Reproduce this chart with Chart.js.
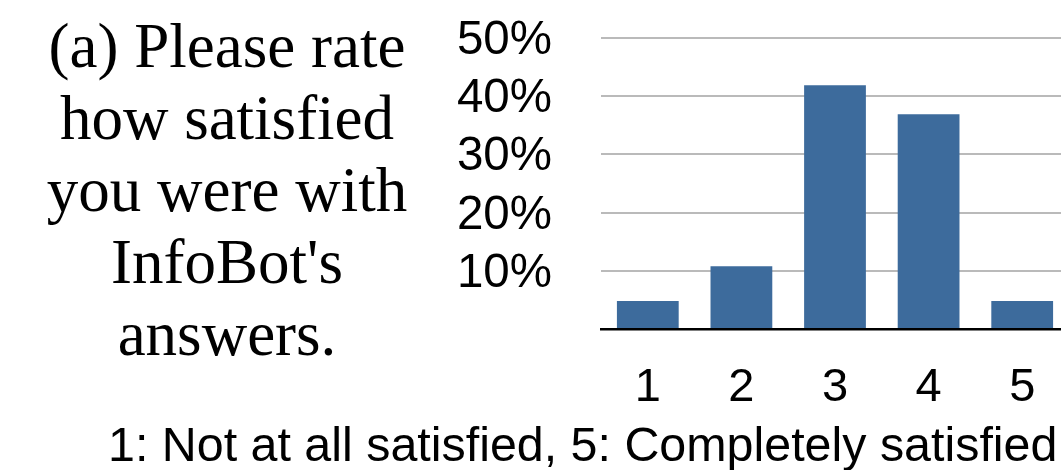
<!DOCTYPE html>
<html>
<head>
<meta charset="utf-8">
<script src="https://cdn.jsdelivr.net/npm/chart.js@4/dist/chart.umd.min.js"></script>
<style>
  html, body { margin: 0; padding: 0; background: #fff; overflow: hidden; }
  body { width: 1061px; height: 470px; position: relative; }
  .question {
    position: absolute; left: 27px; top: 10px; width: 400px;
    font-family: "Liberation Serif", "Times New Roman", serif;
    font-size: 63px; line-height: 72px; text-align: center; color: #000;
  }
  .caption {
    position: absolute; left: 108px; top: 417px; white-space: nowrap;
    font-family: "Liberation Sans", Arial, Helvetica, sans-serif;
    font-size: 48.4px; line-height: 54px; color: #000;
  }
  #chart { position: absolute; left: 440px; top: 0; }
</style>
</head>
<body>
<div class="question">(a) Please rate<br>how satisfied<br>you were with<br>InfoBot's<br>answers.</div>
<canvas id="chart" width="629" height="420"></canvas>
<div class="caption">1: Not at all satisfied, 5: Completely satisfied</div>

<script>
// rating scale and share of answers (%)
const ratings = ["1", "2", "3", "4", "5"];
const shares = [4.8, 10.8, 41.9, 36.9, 4.8];
const yTicks = [0, 10, 20, 30, 40, 50];

const sansFont = "'Liberation Sans', Arial, Helvetica, sans-serif";

let ctx = document.getElementById("chart").getContext("2d");

new Chart(ctx, {
  type: "bar",
  data: {
    labels: ratings,
    datasets: [{
      data: shares,
      backgroundColor: "#3d6b9c",
      borderWidth: 0,
      barPercentage: 0.66,
      categoryPercentage: 1.0,
    }],
  },
  options: {
    responsive: false,
    animation: false,
    layout: { padding: { top: 38, left: 0, right: 0, bottom: 0 } },
    plugins: { legend: { display: false }, tooltip: { enabled: false } },
    scales: {
      x: {
        grid: { display: false },
        border: { display: true, color: "#000", width: 2.5 },
        ticks: {
          color: "#000",
          font: { family: sansFont, size: 47 },
          padding: 23,
          autoSkip: false,
          maxRotation: 0,
        },
        afterFit: function (scale) {
          scale.height = 91;
          scale.paddingLeft = 0;
          scale.paddingRight = 0;
        },
      },
      y: {
        min: 0,
        max: 50,
        afterBuildTicks: function (scale) {
          scale.ticks = yTicks.map(function (v) { return { value: v }; });
        },
        grid: {
          drawTicks: false,
          lineWidth: 2,
          color: function (c) { return c.tick && c.tick.value === 0 ? "rgba(0,0,0,0)" : "#bababa"; },
        },
        border: { display: false },
        ticks: {
          color: "#000",
          font: { family: sansFont, size: 47.5 },
          padding: 49,
          labelOffset: 3,
          autoSkip: false,
          callback: function (v) { return v === 0 ? "" : v + "%"; },
        },
        afterFit: function (scale) {
          scale.width = 161;
          scale.paddingTop = 0;
          scale.paddingBottom = 0;
        },
      },
    },
  },
});
</script>
</body>
</html>
